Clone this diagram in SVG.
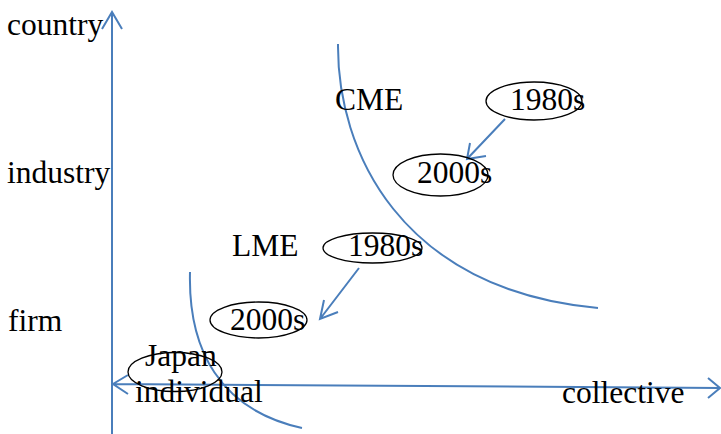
<svg xmlns="http://www.w3.org/2000/svg" width="721" height="434" viewBox="0 0 721 434">
  <style>
    .ax { fill: none; stroke: #4a7ebb; stroke-width: 2; }
    .ov { fill: none; stroke: #000; stroke-width: 1.3; }
    text { font-family: "Liberation Serif", "Times New Roman", serif; font-size: 31.5px; fill: #000; }
  </style>
  <rect width="721" height="434" fill="#fff"/>

  <!-- axes and arrows -->
  <g id="connectors">
    <path class="ax" d="M112 434 V12 M102 29 L112 12 L122 29"/>
    <path class="ax" d="M113 384 L720 388 M128 375 L113 384 L128 394 M708 378 L720 388 L708 398"/>
    <path class="ax" d="M338 44 C337 150 400 290 598 308"/>
    <path class="ax" d="M190 272 C188 350 220 410 302 428"/>
    <path class="ax" d="M505 119 L467 159 M470 143 L467 159 L486 156"/>
    <path class="ax" d="M359 268 L320 319 M324 300 L320 319 L338 312"/>
  </g>

  <!-- axis labels -->
  <g id="labels">
    <text x="7" y="35">country</text>
    <text x="7" y="183">industry</text>
    <text x="8" y="331">firm</text>
    <text x="135" y="402">individual</text>
    <text x="562" y="403">collective</text>
    <text x="335" y="110">CME</text>
    <text x="232" y="256">LME</text>
  </g>

  <g id="cme1980">
    <ellipse class="ov" cx="534" cy="101" rx="48" ry="19"/>
    <text x="510" y="110">1980s</text>
  </g>
  <g id="cme2000">
    <ellipse class="ov" cx="440.5" cy="175" rx="47.5" ry="21"/>
    <text x="417" y="183">2000s</text>
  </g>
  <g id="lme1980">
    <ellipse class="ov" cx="372.5" cy="248" rx="49.5" ry="15"/>
    <text x="348" y="256">1980s</text>
  </g>
  <g id="lme2000">
    <ellipse class="ov" cx="258.5" cy="320" rx="48.5" ry="18"/>
    <text x="230" y="330">2000s</text>
  </g>
  <g id="japan">
    <ellipse class="ov" cx="175" cy="372" rx="47" ry="19.5"/>
    <text x="145" y="366">Japan</text>
  </g>
</svg>
